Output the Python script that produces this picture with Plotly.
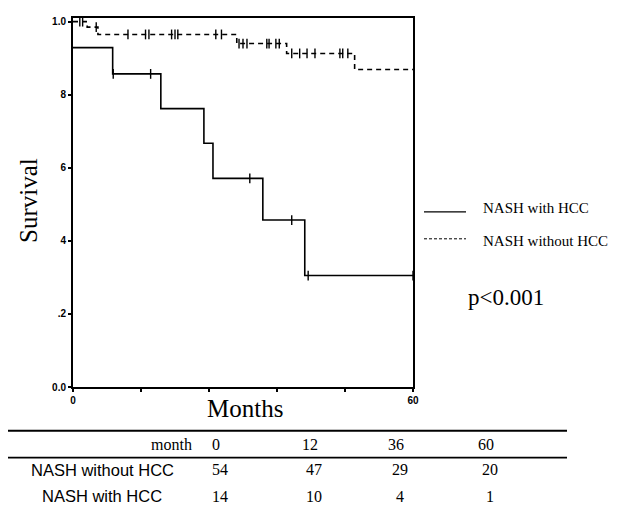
import plotly.graph_objects as go

# ---------------- data ----------------
hcc_times = [0, 7.0, 15.5, 23.1, 24.7, 33.5, 40.9, 60]
hcc_surv = [0.929, 0.857, 0.762, 0.667, 0.571, 0.457, 0.305, 0.305]
hcc_censor = [7.1, 13.7, 31.2, 38.6, 41.5, 60]

nohcc_times = [0, 2.5, 4.4, 28.9, 37.7, 49.7, 60]
nohcc_surv = [1.0, 0.985, 0.965, 0.94, 0.913, 0.869, 0.869]
nohcc_censor = [1.2, 1.7, 4.1, 9.7, 12.8, 13.4, 17.4, 18.0, 18.5, 25.2, 26.2,
                29.3, 30.0, 30.7, 34.2, 34.6, 35.8, 36.4, 38.6, 40.0, 41.3,
                42.7, 47.1, 47.6, 48.5]

y_tickvals = [0, 0.2, 0.4, 0.6, 0.8, 1.0]
y_ticktext = ["0.0", ".2", "4", "6", "8", "1.0"]
x_tickvals = [0, 12, 24, 36, 48, 60]
x_ticktext = ["0", "", "", "", "", "60"]

table_header = ["0", "12", "36", "60"]
table_rows = ["NASH without HCC", "NASH with HCC"]
table_without = ["54", "47", "29", "20"]
table_with = ["14", "10", "4", "1"]

legend_names = ["NASH with HCC", "NASH without HCC"]
p_text = "p<0.001"

# ---------------- geometry ----------------
# the page body adds an 8px offset; positions below are in screenshot pixels
OFF = 8
W, H = 622 - OFF, 511 - OFF
PLOT_L, PLOT_R, PLOT_T, PLOT_B = 73, 413, 16, 387   # screenshot pixels
L = PLOT_L - OFF
T = PLOT_T - OFF
R = W - (PLOT_R - OFF)
B = H - (PLOT_B - OFF)
PW = PLOT_R - PLOT_L
PH = PLOT_B - PLOT_T


def px(x):
    return (x - PLOT_L) / PW


def py(y):
    return (PLOT_B - y) / PH


def surv_at(times, surv, t):
    val = surv[0]
    for ti, si in zip(times, surv):
        if ti <= t:
            val = si
    return val


SERIF = "Liberation Serif"
SANS = "Liberation Sans"

fig = go.Figure()

fig.add_trace(go.Scatter(x=hcc_times, y=hcc_surv, mode="lines",
                         line=dict(color="black", width=1.6, shape="hv"),
                         showlegend=False, hoverinfo="skip"))
fig.add_trace(go.Scatter(x=hcc_censor,
                         y=[surv_at(hcc_times, hcc_surv, t) for t in hcc_censor],
                         mode="markers",
                         marker=dict(symbol="line-ns", size=7,
                                     line=dict(color="black", width=1.4)),
                         showlegend=False, hoverinfo="skip"))
fig.add_trace(go.Scatter(x=nohcc_times, y=nohcc_surv, mode="lines",
                         line=dict(color="black", width=1.6, shape="hv", dash="5px,4px"),
                         showlegend=False, hoverinfo="skip"))
fig.add_trace(go.Scatter(x=nohcc_censor,
                         y=[surv_at(nohcc_times, nohcc_surv, t) for t in nohcc_censor],
                         mode="markers",
                         marker=dict(symbol="line-ns", size=7,
                                     line=dict(color="black", width=1.4)),
                         showlegend=False, hoverinfo="skip"))

shapes = []
annotations = []

# legend
for i, (name, dash) in enumerate(zip(legend_names, ["solid", "3px,2px"])):
    ly = [211, 238][i]
    ty = [207, 240][i]
    shapes.append(dict(type="line", xref="paper", yref="paper",
                       x0=px(424), x1=px(466), y0=py(ly), y1=py(ly),
                       line=dict(color="black", width=1.3 if i == 0 else 1, dash=dash)))
    annotations.append(dict(xref="paper", yref="paper", x=px(481), y=py(ty),
                            text=name, showarrow=False, xanchor="left", yanchor="middle",
                            font=dict(family=SERIF, size=15, color="black")))

annotations.append(dict(xref="paper", yref="paper", x=px(466), y=py(297),
                        text=p_text, showarrow=False, xanchor="left", yanchor="middle",
                        font=dict(family=SERIF, size=23, color="black")))

# axis titles
annotations.append(dict(xref="paper", yref="paper", x=px(245), y=py(409),
                        text="Months", showarrow=False, xanchor="center", yanchor="middle",
                        font=dict(family=SERIF, size=25, color="black")))
annotations.append(dict(xref="paper", yref="paper", x=px(28), y=py(200),
                        text="Survival", showarrow=False, xanchor="center", yanchor="middle",
                        textangle=-90,
                        font=dict(family=SERIF, size=25, color="black")))

# table
shapes.append(dict(type="line", xref="paper", yref="paper",
                   x0=px(8), x1=px(567), y0=py(431), y1=py(431),
                   line=dict(color="black", width=2.2)))
shapes.append(dict(type="line", xref="paper", yref="paper",
                   x0=px(8), x1=px(567), y0=py(458), y1=py(458),
                   line=dict(color="black", width=1.6)))

annotations.append(dict(xref="paper", yref="paper", x=px(194), y=py(445),
                        text="month", showarrow=False, xanchor="right", yanchor="middle",
                        font=dict(family=SERIF, size=16, color="black")))
col_x = [216, 310, 396, 486]
for cx, h in zip(col_x, table_header):
    annotations.append(dict(xref="paper", yref="paper", x=px(cx), y=py(445),
                            text=h, showarrow=False, xanchor="center", yanchor="middle",
                            font=dict(family=SERIF, size=16, color="black")))
row_y = [470, 497]
for ry, label, vals in zip(row_y, table_rows, [table_without, table_with]):
    annotations.append(dict(xref="paper", yref="paper", x=px(102), y=py(ry),
                            text=label, showarrow=False, xanchor="center", yanchor="middle",
                            font=dict(family=SANS, size=16.5, color="black")))
    for cx, v in zip(col_x, vals):
        annotations.append(dict(xref="paper", yref="paper", x=px(cx + 4), y=py(ry),
                                text=v, showarrow=False, xanchor="center", yanchor="middle",
                                font=dict(family=SERIF, size=16, color="black")))

fig.update_layout(
    width=W, height=H,
    margin=dict(l=L, r=R, t=T, b=B, pad=0),
    paper_bgcolor="white", plot_bgcolor="white",
    shapes=shapes, annotations=annotations,
    showlegend=False,
    xaxis=dict(range=[0, 60], tickvals=x_tickvals,
               ticktext=["<b>%s</b>" % t if t else "" for t in x_ticktext],
               showline=True, linecolor="black", linewidth=2, mirror=True,
               ticks="outside", ticklen=3, tickwidth=1.5, tickcolor="black",
               showgrid=False, zeroline=False,
               tickfont=dict(family=SANS, size=10, color="black")),
    yaxis=dict(range=[0, 1.01], tickvals=y_tickvals,
               ticktext=["<b>%s</b>" % t for t in y_ticktext],
               showline=True, linecolor="black", linewidth=2, mirror=True,
               ticks="outside", ticklen=3, tickwidth=1.5, tickcolor="black",
               showgrid=False, zeroline=False,
               tickfont=dict(family=SANS, size=10, color="black")),
)

fig.write_html("out.html")
